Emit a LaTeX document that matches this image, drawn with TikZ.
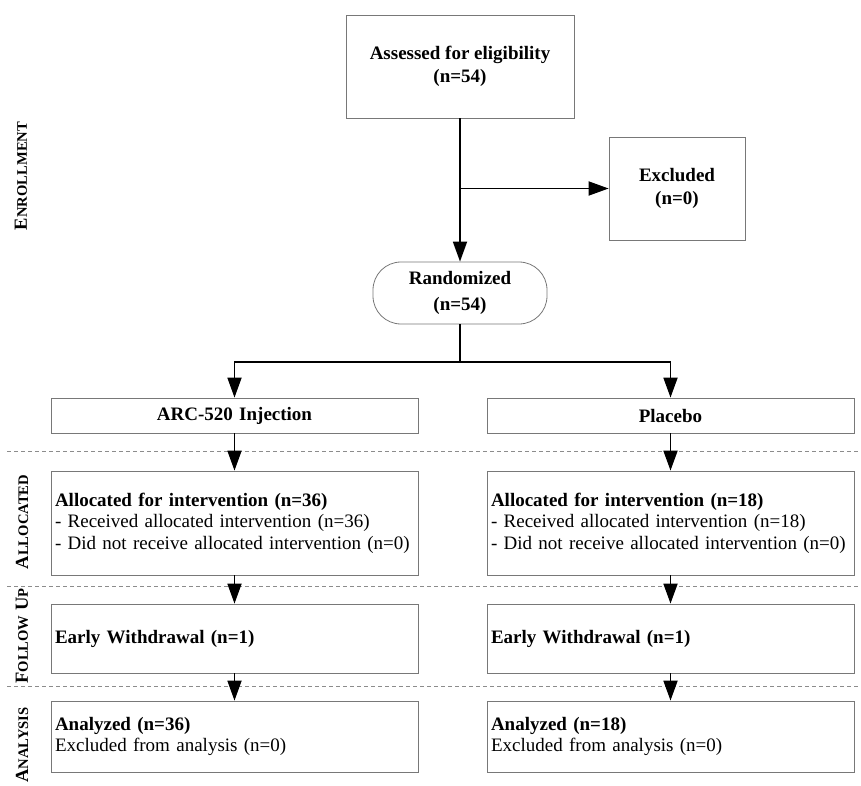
\documentclass[tikz,border=0pt]{standalone}
\usepackage{fontspec}
\setmainfont{Liberation Serif}
\usetikzlibrary{arrows.meta}

\definecolor{boxgray}{RGB}{120,120,120}
\definecolor{dashgray}{RGB}{140,140,140}

\newcommand\boxfont{\fontsize{19}{21.6}\selectfont}
\newcommand\phasefont{\fontsize{18.5}{20}\selectfont\bfseries}
\newcommand\scpart[1]{{\fontsize{14.6}{16}\selectfont #1}}

\tikzset{
  flowbox/.style={draw=boxgray, line width=0.8pt, font=\boxfont, align=center, inner sep=5pt},
  widebox/.style={flowbox, inner xsep=4pt, text width=359pt, align=left},
  arr/.style={line width=1.8pt, -{Triangle[length=20pt,width=14pt]}},
  plainline/.style={line width=1.8pt},
  sepline/.style={draw=dashgray, line width=0.8pt, dash pattern=on 4pt off 3pt},
  phase/.style={font=\phasefont, rotate=90, inner sep=0pt}
}

\begin{document}
\begin{tikzpicture}[x=1pt,y=-1pt]
\useasboundingbox (0,0) rectangle (861,786);
%
% enrollment
\node[flowbox, minimum width=228pt, minimum height=103pt] (assess) at (460,66.5)
  {\textbf{Assessed for eligibility}\\[2pt]\textbf{(n=54)}};
\node[flowbox, minimum width=136pt, minimum height=103pt] (excl) at (677,188.5)
  {\textbf{Excluded}\\[2pt]\textbf{(n=0)}};
\node[flowbox, rounded corners=28pt, minimum width=174pt, minimum height=62pt] (rand) at (460,293)
  {\textbf{Randomized}\\[4pt]\textbf{(n=54)}};
\coordinate (branch) at (460,188.5);
\coordinate (split) at (460,362);
%
% arms
\node[widebox, align=center, minimum height=35pt] (armA) at (234.5,415.5) {\textbf{ARC-520 Injection}};
\node[widebox, align=center, minimum height=35pt] (armB) at (670.5,415.5) {\textbf{Placebo}};
%
\node[widebox, minimum height=104pt] (allocA) at (234.5,523)
  {\textbf{Allocated for intervention (n=36)}\\- Received allocated intervention (n=36)\\- Did not receive allocated intervention (n=0)};
\node[widebox, minimum height=104pt] (allocB) at (670.5,523)
  {\textbf{Allocated for intervention (n=18)}\\- Received allocated intervention (n=18)\\- Did not receive allocated intervention (n=0)};
%
\node[widebox, minimum height=69pt] (followA) at (234.5,638.5) {\textbf{Early Withdrawal (n=1)}};
\node[widebox, minimum height=69pt] (followB) at (670.5,638.5) {\textbf{Early Withdrawal (n=1)}};
%
\node[widebox, minimum height=71pt] (anaA) at (234.5,736.5)
  {\textbf{Analyzed (n=36)}\\Excluded from analysis (n=0)};
\node[widebox, minimum height=71pt] (anaB) at (670.5,736.5)
  {\textbf{Analyzed (n=18)}\\Excluded from analysis (n=0)};
%
% phase separators
\draw[sepline] (7,451) -- (861,451);
\draw[sepline] (7,586) -- (861,586);
\draw[sepline] (7,686) -- (861,686);
%
% phase labels
\node[phase] (enrol) at (21,176) {E\scpart{NROLLMENT}};
\node[phase] (alloc) at (22,522) {A\scpart{LLOCATED}};
\node[phase] (follow) at (22,636) {F\scpart{OLLOW} U\scpart{P}};
\node[phase] (analysis) at (22,745) {A\scpart{NALYSIS}};
%
% connectors
\draw[arr] (assess) -- (rand);
\draw[arr] (branch) -- (excl);
\draw[plainline] (rand) -- (split);
\draw[arr] (split) -| (armA);
\draw[arr] (split) -| (armB);
\draw[arr] (armA) -- (allocA);
\draw[arr] (armB) -- (allocB);
\draw[arr] (allocA) -- (followA);
\draw[arr] (allocB) -- (followB);
\draw[arr] (followA) -- (anaA);
\draw[arr] (followB) -- (anaB);
\end{tikzpicture}
\end{document}
